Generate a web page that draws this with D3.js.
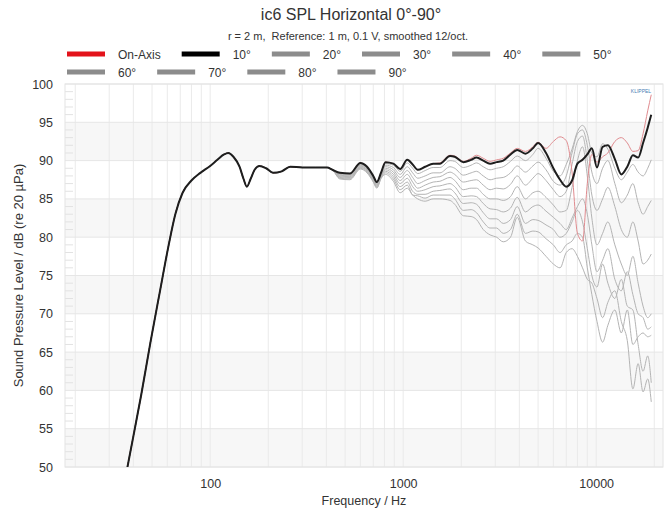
<!DOCTYPE html>
<html>
<head>
<meta charset="utf-8">
<script src="https://cdnjs.cloudflare.com/ajax/libs/d3/7.8.5/d3.min.js"></script>
<style>
  body { margin: 0; background: #fff; }
  svg { display: block; font-family: "Liberation Sans", Arial, sans-serif; }
</style>
</head>
<body>
<script>
/**Constants */
const width = 670;
const height = 513;
const plotLeft = 65, plotRight = 663, plotTop = 84, plotBottom = 467;

/**Data - shared low end (all angles overlap below ~450 Hz) */
const lowFreq = [36, 40, 44, 49, 55, 61, 66, 72, 80, 89, 100, 109, 118, 124, 132, 142, 149, 155, 162, 170, 180, 195, 212, 235, 260, 300, 350, 404, 430];
const lowSpl = [48.0, 54.0, 59.5, 66.2, 73.0, 79.0, 83.0, 85.8, 87.4, 88.4, 89.3, 90.1, 90.8, 91.0, 90.5, 89.2, 87.6, 86.6, 87.6, 88.8, 89.3, 89.0, 88.4, 88.6, 89.2, 89.1, 89.1, 89.1, 88.8];

/**Data - upper range, one array per angle */
const hiFreq = [470, 530, 600, 650, 700, 730, 770, 810, 890, 965,
  1050, 1120, 1190, 1300, 1430, 1550, 1750, 1850, 2050, 2250,
  2400, 2600, 2820, 3050, 3300, 3600, 3900, 4300, 4700, 5000,
  5500, 6000, 6500, 7000, 7500, 8000, 8500, 9000, 9500, 10100,
  10800, 11500, 12500, 13500, 14500, 15500, 16500, 17500, 18500, 19300];

const splOnAxis = [88.4, 88.3, 89.7, 89.2, 88.0, 87.2, 88.5, 89.8, 89.6, 88.9,
  90.1, 89.5, 88.8, 89.2, 89.6, 89.7, 90.7, 90.6, 89.9, 90.3,
  90.7, 90.3, 89.9, 90.1, 90.3, 91.0, 91.6, 91.2, 91.8, 92.4,
  91.6, 92.5, 93.1, 92.6, 88.5, 80.5, 79.5, 87.0, 90.8, 89.8,
  90.5, 91.0, 92.5, 93.0, 92.3, 91.2, 91.3, 93.5, 96.5, 98.6];
const spl10 = [88.4, 88.3, 89.7, 89.2, 88.0, 87.2, 88.5, 89.8, 89.6, 88.9,
  90.1, 89.5, 88.8, 89.2, 89.6, 89.6, 90.6, 90.5, 89.8, 90.1,
  90.4, 90.0, 89.6, 89.8, 90.0, 90.8, 91.4, 90.9, 91.6, 92.3,
  91.0, 89.0, 87.5, 86.6, 87.4, 89.6, 90.1, 90.8, 91.6, 89.1,
  91.8, 92.0, 90.2, 88.2, 89.2, 90.7, 90.4, 92.3, 94.3, 96.0];
const spl20 = [88.3, 88.2, 89.6, 89.1, 87.9, 87.1, 88.4, 89.6, 89.4, 88.6,
  89.7, 89.0, 88.3, 88.7, 89.1, 89.1, 90.0, 89.9, 89.1, 89.4,
  89.7, 89.2, 88.8, 89.0, 89.2, 89.9, 90.6, 90.0, 90.8, 91.6,
  90.3, 88.6, 88.0, 89.5, 91.5, 93.8, 94.6, 93.5, 91.0, 90.5,
  92.2, 91.5, 89.0, 87.5, 88.5, 89.5, 88.5, 88.0, 89.0, 90.1];
const spl30 = [88.2, 88.1, 89.5, 89.0, 87.8, 87.0, 88.3, 89.4, 89.1, 88.2,
  89.2, 88.4, 87.7, 88.0, 88.4, 88.4, 89.2, 89.0, 88.1, 88.4,
  88.6, 88.0, 87.5, 87.7, 87.8, 88.4, 89.3, 88.5, 89.3, 89.8,
  88.8, 87.3, 86.8, 88.0, 91.0, 93.5, 94.0, 92.0, 88.5, 87.0,
  89.0, 90.0, 87.0, 84.5, 85.5, 87.0, 84.5, 83.0, 84.0, 84.8];
const spl40 = [88.1, 88.0, 89.4, 88.9, 87.7, 86.9, 88.2, 89.2, 88.8, 87.8,
  88.7, 87.8, 87.0, 87.4, 87.8, 87.9, 88.5, 88.2, 87.2, 87.4,
  87.5, 86.8, 86.2, 86.4, 86.3, 86.9, 88.0, 86.8, 87.7, 88.3,
  87.4, 86.2, 85.3, 86.0, 89.5, 92.5, 93.2, 90.0, 85.5, 83.5,
  85.0, 86.5, 84.0, 81.0, 80.0, 82.0, 79.5, 76.5, 77.0, 77.8];
const spl50 = [88.0, 87.9, 89.3, 88.8, 87.6, 86.8, 88.1, 89.0, 88.5, 87.4,
  88.2, 87.2, 86.4, 86.8, 87.2, 87.3, 87.8, 87.4, 86.2, 86.4,
  86.4, 85.6, 85.0, 85.0, 84.8, 85.3, 86.6, 85.0, 85.8, 86.0,
  85.2, 84.2, 83.3, 83.5, 86.5, 90.0, 91.8, 88.0, 82.5, 79.0,
  80.5, 82.0, 79.0, 76.5, 75.0, 77.5, 74.0, 71.0, 69.5, 70.0];
const spl60 = [87.9, 87.8, 89.2, 88.7, 87.5, 86.7, 88.0, 88.8, 88.2, 87.0,
  87.7, 86.6, 86.0, 86.2, 86.6, 86.7, 87.0, 86.6, 85.3, 85.4,
  85.3, 84.4, 83.7, 83.6, 83.3, 83.8, 85.2, 83.3, 84.0, 84.2,
  83.4, 82.6, 81.8, 81.0, 82.5, 84.0, 85.0, 83.0, 79.0, 75.5,
  77.0, 78.5, 74.5, 73.0, 75.5, 72.5, 70.0, 69.5, 68.0, 68.3];
const spl70 = [87.8, 87.7, 89.1, 88.6, 87.4, 86.6, 87.9, 88.6, 87.9, 86.6,
  87.2, 86.0, 85.6, 85.6, 86.0, 86.1, 86.3, 85.8, 84.4, 84.5,
  84.3, 83.2, 82.4, 82.4, 81.8, 82.3, 84.0, 81.8, 82.3, 82.2,
  81.6, 81.0, 80.0, 80.5, 82.0, 83.5, 82.0, 78.5, 75.0, 73.5,
  76.5, 74.0, 72.0, 74.5, 71.0, 70.5, 66.0, 62.5, 64.5, 61.0];
const spl80 = [87.7, 87.6, 89.0, 88.5, 87.3, 86.5, 87.8, 88.4, 87.6, 86.2,
  86.8, 85.5, 85.4, 85.1, 85.5, 85.5, 85.5, 85.0, 83.5, 83.6,
  83.2, 82.0, 81.2, 81.2, 80.5, 81.0, 83.0, 80.5, 80.8, 80.7,
  79.8, 79.0, 78.0, 79.0, 79.5, 80.5, 80.0, 76.0, 72.5, 69.0,
  66.3, 68.5, 70.5, 67.5, 70.5, 66.0, 67.0, 67.5, 67.0, 67.2];
const spl90 = [87.6, 87.5, 88.9, 88.4, 87.2, 86.4, 87.7, 88.2, 87.3, 85.8,
  86.4, 85.5, 85.0, 84.7, 85.0, 85.0, 84.8, 84.3, 82.8, 82.7,
  82.3, 81.0, 80.3, 80.0, 79.4, 80.0, 82.6, 79.5, 79.0, 78.6,
  77.5, 76.5, 76.0, 78.0, 78.5, 77.5, 76.0, 74.5, 74.0, 72.0,
  69.5, 71.5, 73.0, 69.0, 66.5, 60.2, 63.5, 59.8, 61.5, 58.5];

const seriesNames = ["On-Axis", "10°", "20°", "30°", "40°", "50°", "60°", "70°", "80°", "90°"];
const seriesValues = [splOnAxis, spl10, spl20, spl30, spl40, spl50, spl60, spl70, spl80, spl90];
const yTicks = [50, 55, 60, 65, 70, 75, 80, 85, 90, 95, 100];
const xTickLabels = [100, 1000, 10000];

/**Variables */
var svg, xScale, yScale, plot;

function lineColor(i) { return i === 0 ? "#e08b8f" : (i === 1 ? "#1e1e1e" : "#b4b4b4"); }
function legendColor(i) { return i === 0 ? "#e3131b" : (i === 1 ? "#000000" : "#8c8c8c"); }

function generateScales() {
  xScale = d3.scaleLog().domain([17.7, 22200]).range([plotLeft, plotRight]);
  yScale = d3.scaleLinear().domain([50, 100]).range([plotBottom, plotTop]);
}

function generateGrid() {
  // alternating shaded bands
  [50, 60, 70, 80, 90].forEach(d => {
    svg.append("rect")
      .attr("x", plotLeft).attr("y", yScale(d + 5))
      .attr("width", plotRight - plotLeft).attr("height", yScale(d) - yScale(d + 5))
      .attr("fill", "#f7f7f7");
  });
  svg.append("g").selectAll("line")
    .data(xScale.ticks().filter(f => f >= 20 && f <= 20000))
    .enter().append("line")
    .attr("x1", d => xScale(d)).attr("x2", d => xScale(d))
    .attr("y1", plotTop).attr("y2", plotBottom)
    .attr("stroke", "#eaeaea").attr("stroke-width", 1);
  svg.append("g").selectAll("line")
    .data(yTicks)
    .enter().append("line")
    .attr("x1", plotLeft).attr("x2", plotRight)
    .attr("y1", d => yScale(d)).attr("y2", d => yScale(d))
    .attr("stroke", "#e6e6e6").attr("stroke-width", 1);
  // minor 1 dB ticks on the left edge
  svg.append("g").selectAll("line")
    .data(d3.range(51, 100).filter(d => d % 5 !== 0))
    .enter().append("line")
    .attr("x1", plotLeft).attr("x2", plotLeft + 8)
    .attr("y1", d => yScale(d)).attr("y2", d => yScale(d))
    .attr("stroke", "#e2e2e2");
  svg.append("rect")
    .attr("x", plotLeft).attr("y", plotTop)
    .attr("width", plotRight - plotLeft).attr("height", plotBottom - plotTop)
    .attr("fill", "none").attr("stroke", "#e4e4e4");
}

function generateAxes() {
  let yAxis = svg.append("g")
    .attr("transform", "translate(" + plotLeft + ",0)")
    .call(d3.axisLeft(yScale).tickValues(yTicks).tickSize(0).tickPadding(12));
  let xAxis = svg.append("g")
    .attr("transform", "translate(0," + plotBottom + ")")
    .call(d3.axisBottom(xScale).tickValues(xTickLabels).tickFormat(d3.format("d")).tickSize(0).tickPadding(12));
  [yAxis, xAxis].forEach(a => {
    a.select(".domain").remove();
    a.selectAll("text").attr("font-size", "12.5px").attr("fill", "#333")
      .attr("font-family", "\"Liberation Sans\", Arial, sans-serif");
  });
  svg.append("text")
    .attr("x", (plotLeft + plotRight) / 2).attr("y", 505)
    .attr("text-anchor", "middle").attr("font-size", "12.5px").attr("fill", "#333")
    .text("Frequency / Hz");
  svg.append("text")
    .attr("transform", "translate(23," + ((plotTop + plotBottom) / 2) + ") rotate(-90)")
    .attr("text-anchor", "middle").attr("font-size", "13px").attr("fill", "#333")
    .text("Sound Pressure Level / dB (re 20 µPa)");
}

function generateLines() {
  svg.append("clipPath").attr("id", "clip")
    .append("rect").attr("x", plotLeft).attr("y", plotTop)
    .attr("width", plotRight - plotLeft).attr("height", plotBottom - plotTop);
  plot = svg.append("g").attr("clip-path", "url(#clip)");

  let line = d3.line()
    .x(d => xScale(d.f))
    .y(d => yScale(d.v))
    .curve(d3.curveMonotoneX);

  let series = seriesValues.map((vals, i) => ({
    name: seriesNames[i],
    index: i,
    points: lowFreq.map((f, j) => ({ f: f, v: lowSpl[j] }))
      .concat(hiFreq.map((f, j) => ({ f: f, v: vals[j] })))
  }));
  // greys first (90° at the back), then On-Axis, then 10° on top
  let order = series.slice(2).reverse().concat([series[0], series[1]]);

  plot.selectAll("path")
    .data(order)
    .enter()
    .append("path")
    .attr("d", s => line(s.points))
    .attr("fill", "none")
    .attr("stroke", s => lineColor(s.index))
    .attr("stroke-width", s => s.index === 1 ? 2 : 1)
    .attr("stroke-linejoin", "round");

  svg.append("text")
    .attr("x", 641).attr("y", 93)
    .attr("text-anchor", "middle").attr("font-size", "5px").attr("fill", "#4a7fb5")
    .text("KLIPPEL");
}

function generateLegend() {
  let legend = svg.append("g").attr("id", "legend");
  let x = 67, y = 54;
  seriesNames.forEach((name, i) => {
    let item = legend.append("g");
    item.append("rect")
      .attr("x", 0).attr("y", -2.5)
      .attr("width", 38).attr("height", 5)
      .attr("fill", legendColor(i));
    let t = item.append("text")
      .attr("x", 51).attr("y", 4.5)
      .attr("font-size", "12px").attr("fill", "#333")
      .text(name);
    let w = 51 + t.node().getComputedTextLength() + 21;
    if (x + w > 650) { x = 67; y += 18; }
    item.attr("transform", "translate(" + x + "," + y + ")");
    x += w;
  });
}

function generateTitle() {
  svg.append("text")
    .attr("x", 351).attr("y", 20)
    .attr("text-anchor", "middle").attr("font-size", "16px").attr("fill", "#333")
    .text("ic6 SPL Horizontal 0°-90°");
  svg.append("text")
    .attr("x", 348).attr("y", 40)
    .attr("text-anchor", "middle").attr("font-size", "11px").attr("fill", "#333")
    .text("r = 2 m,  Reference: 1 m, 0.1 V, smoothed 12/oct.")
    .attr("xml:space", "preserve").style("white-space", "pre");
}

document.addEventListener("DOMContentLoaded", function () {
  svg = d3.select("body").append("svg")
    .attr("width", width)
    .attr("height", height);
  generateScales();
  generateGrid();
  generateAxes();
  generateLines();
  generateLegend();
  generateTitle();
});
</script>
</body>
</html>
